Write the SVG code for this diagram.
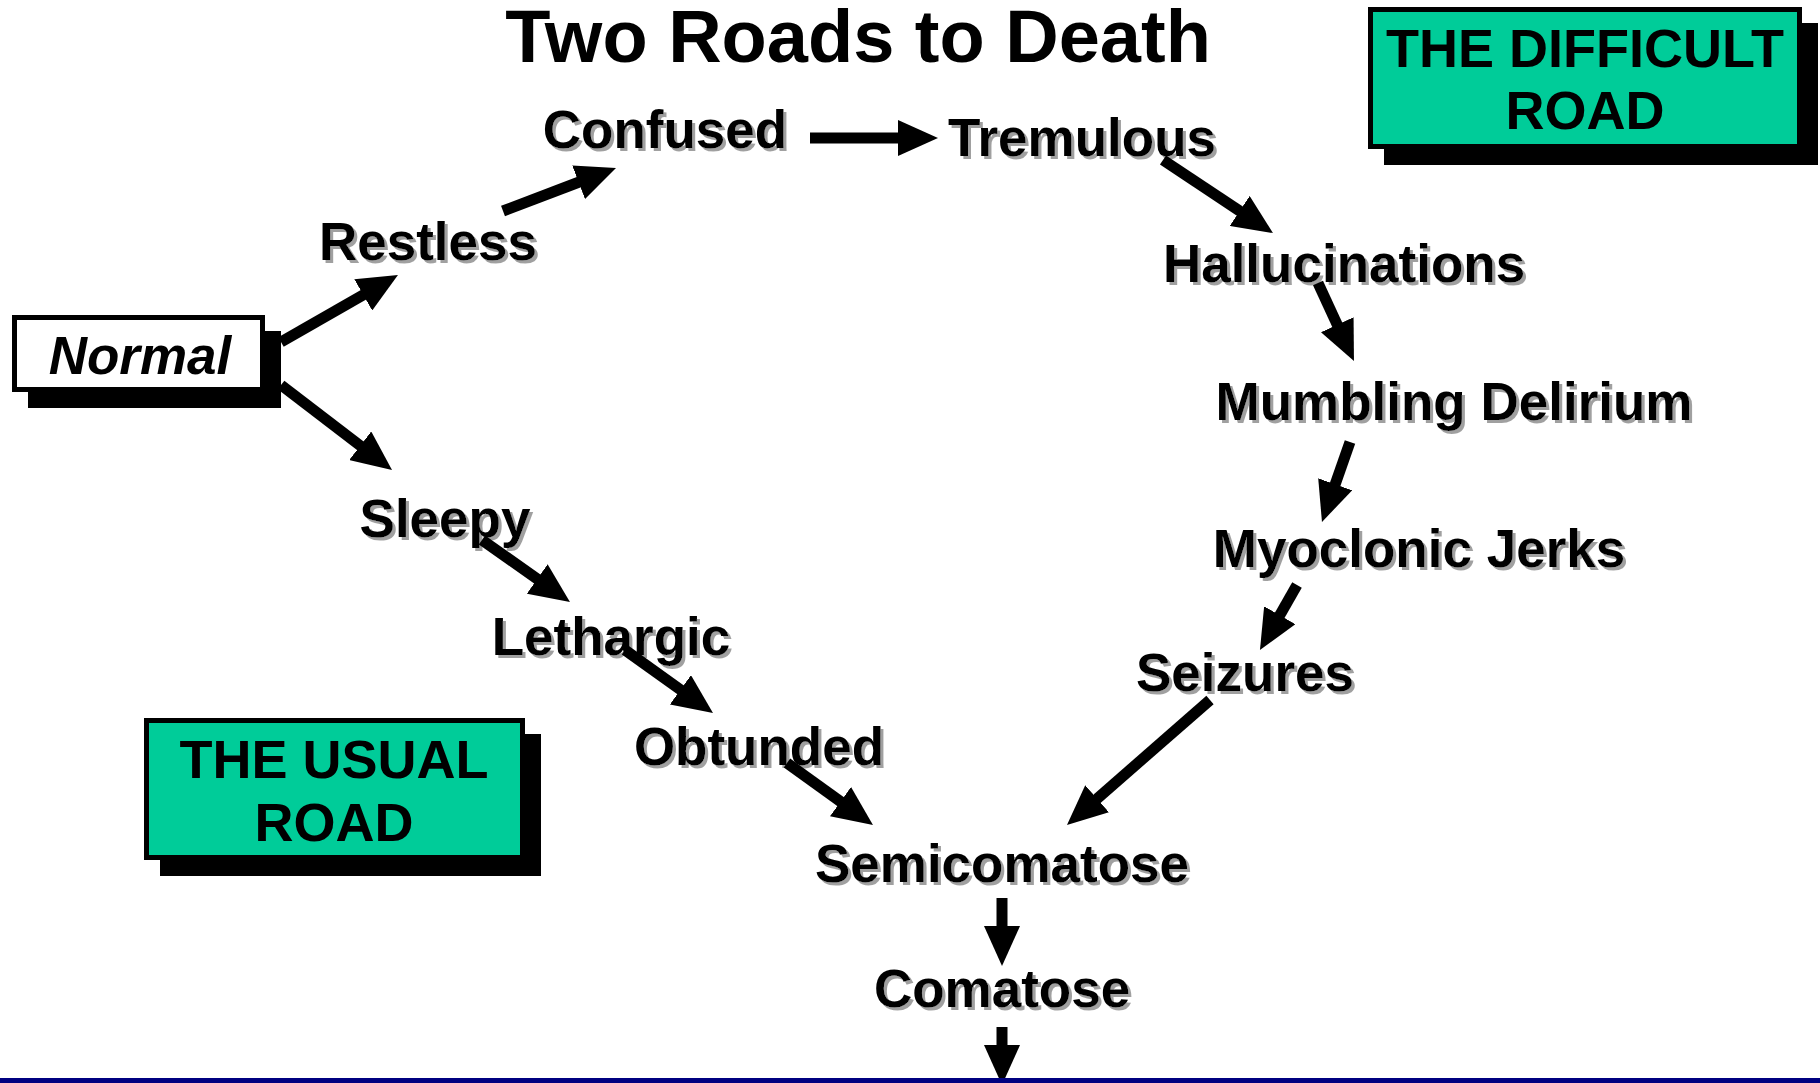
<svg xmlns="http://www.w3.org/2000/svg" width="1820" height="1083" viewBox="0 0 1820 1083">
  <defs>
    <style>
      .lbl { font-family: "Liberation Sans", Arial, sans-serif; font-weight: bold; font-size: 53px; fill: #000; text-anchor: middle; filter: url(#ts); }
      .title { font-family: "Liberation Sans", Arial, sans-serif; font-weight: bold; font-size: 74px; fill: #000; text-anchor: middle; }
      .road { font-family: "Liberation Sans", Arial, sans-serif; font-weight: bold; font-size: 54px; fill: #000; text-anchor: middle; }
      .norm { font-family: "Liberation Sans", Arial, sans-serif; font-weight: bold; font-style: italic; font-size: 53px; fill: #000; text-anchor: middle; }
      .box { stroke: #000; stroke-width: 5; }
      .shadow { fill: #000; }
      .teal { fill: #00CC99; }
      .white { fill: #fff; }
      .conn line { stroke: #000; stroke-width: 11; marker-end: url(#ah); }
    </style>
    <filter id="ts" x="-5%" y="-10%" width="115%" height="130%">
      <feFlood flood-color="#a0a0a0"/>
      <feComposite in2="SourceAlpha" operator="in"/>
      <feOffset dx="3" dy="3" result="sh"/>
      <feMerge><feMergeNode in="sh"/><feMergeNode in="SourceGraphic"/></feMerge>
    </filter>
    <marker id="ah" markerUnits="userSpaceOnUse" markerWidth="40" markerHeight="36" refX="26" refY="18" orient="auto" viewBox="0 0 40 36">
      <path d="M0,0 L40,18 L0,36 z" fill="#000"/>
    </marker>
  </defs>
  <rect x="0" y="0" width="1820" height="1083" fill="#fff"/>

  <g id="title"><text class="title" x="858" y="62">Two Roads to Death</text></g>

  <g id="difficult-road">
    <rect class="shadow" x="1384" y="23" width="434" height="142"/>
    <rect class="box teal" x="1370.5" y="9.5" width="429" height="137"/>
    <text class="road" x="1585" y="67">THE DIFFICULT</text>
    <text class="road" x="1585" y="129">ROAD</text>
  </g>

  <g id="usual-road">
    <rect class="shadow" x="160" y="734" width="381" height="142"/>
    <rect class="box teal" x="146.5" y="720.5" width="376" height="137"/>
    <text class="road" x="334" y="778">THE USUAL</text>
    <text class="road" x="334" y="841">ROAD</text>
  </g>

  <g id="normal">
    <rect class="shadow" x="28" y="331" width="253" height="77"/>
    <rect class="box white" x="14.5" y="317.5" width="248" height="72"/>
    <text class="norm" x="140" y="374">Normal</text>
  </g>

  <g id="restless"><text class="lbl" x="428" y="260">Restless</text></g>
  <g id="confused"><text class="lbl" x="665" y="148">Confused</text></g>
  <g id="tremulous"><text class="lbl" x="1082" y="156">Tremulous</text></g>
  <g id="hallucinations"><text class="lbl" x="1344" y="282">Hallucinations</text></g>
  <g id="mumbling-delirium"><text class="lbl" x="1454" y="420">Mumbling Delirium</text></g>
  <g id="myoclonic-jerks"><text class="lbl" x="1419" y="567">Myoclonic Jerks</text></g>
  <g id="seizures"><text class="lbl" x="1245" y="691">Seizures</text></g>
  <g id="sleepy"><text class="lbl" x="445" y="537">Sleepy</text></g>
  <g id="lethargic"><text class="lbl" x="611" y="655">Lethargic</text></g>
  <g id="obtunded"><text class="lbl" x="759" y="765">Obtunded</text></g>
  <g id="semicomatose"><text class="lbl" x="1002" y="882">Semicomatose</text></g>
  <g id="comatose"><text class="lbl" x="1002" y="1007">Comatose</text></g>

  <g id="connectors" class="conn">
    <line x1="281" y1="342" x2="385.8" y2="282.0"/>
    <line x1="281" y1="385" x2="380.9" y2="461.5"/>
    <line x1="503" y1="211" x2="602.9" y2="173.0"/>
    <line x1="810" y1="138" x2="924" y2="138"/>
    <line x1="1163" y1="160" x2="1261.3" y2="225.3"/>
    <line x1="1318" y1="283" x2="1348.1" y2="348.3"/>
    <line x1="1350" y1="442" x2="1326.6" y2="508.8"/>
    <line x1="1297" y1="585" x2="1266.9" y2="637.8"/>
    <line x1="1210" y1="700" x2="1077.5" y2="815.8"/>
    <line x1="482" y1="540" x2="558.5" y2="593.9"/>
    <line x1="625" y1="650" x2="701.6" y2="704.9"/>
    <line x1="787" y1="763" x2="861.6" y2="816.8"/>
    <line x1="1002" y1="898" x2="1002" y2="952"/>
    <line x1="1002" y1="1027" x2="1002" y2="1071"/>
  </g>

  <rect id="bottom-rule" x="0" y="1078" width="1820" height="5" fill="#000080"/>
</svg>
